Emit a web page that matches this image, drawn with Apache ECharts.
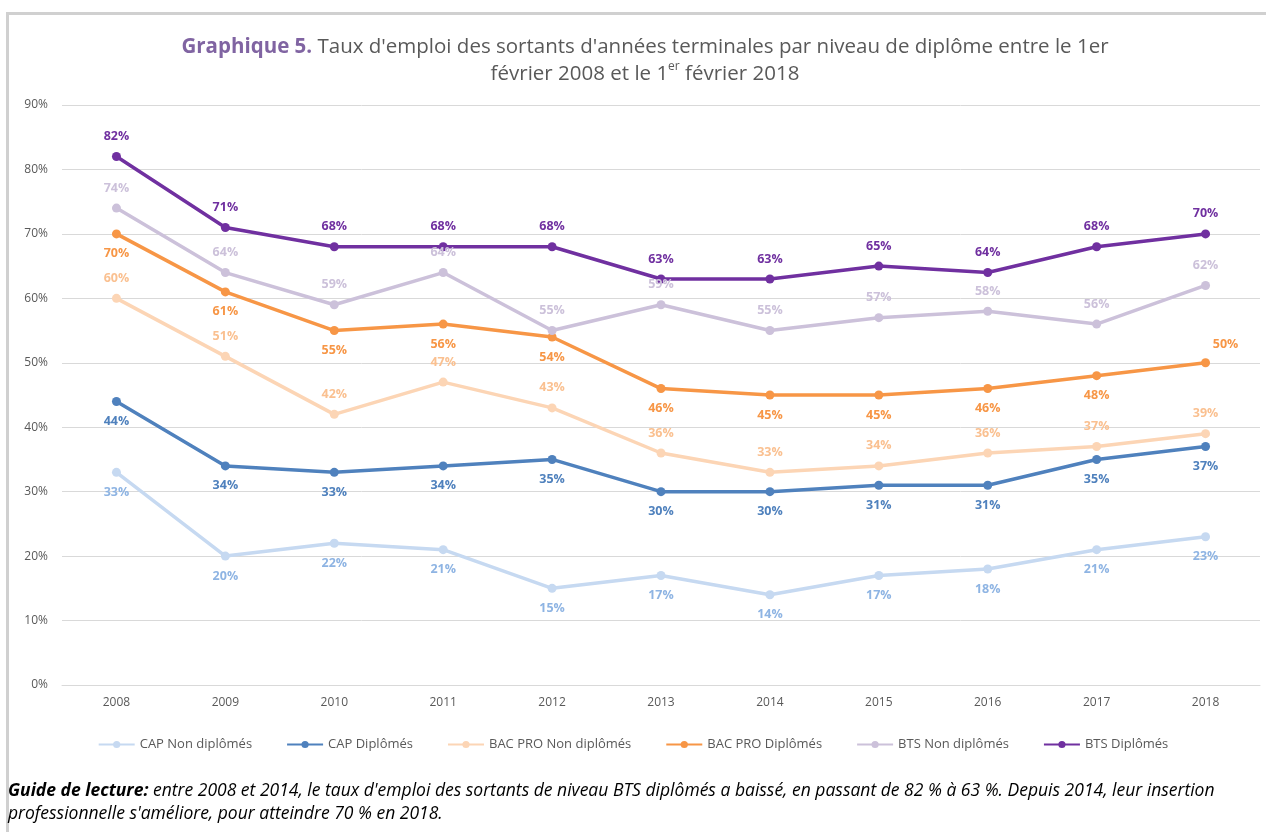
<!DOCTYPE html>
<html>
<head>
<meta charset="utf-8">
<script src="https://cdn.jsdelivr.net/npm/echarts@6/dist/echarts.min.js"></script>
<style>
  html, body { margin: 0; padding: 0; background: #fff; }
  #main { width: 1266px; height: 832px; }
</style>
</head>
<body>
<div id="main"></div>
<script>
var years = ['2008', '2009', '2010', '2011', '2012', '2013', '2014', '2015', '2016', '2017', '2018'];
var capNonDip = [33, 20, 22, 21, 15, 17, 14, 17, 18, 21, 23];
var capDip = [44, 34, 33, 34, 35, 30, 30, 31, 31, 35, 37];
var bacNonDip = [60, 51, 42, 47, 43, 36, 33, 34, 36, 37, 39];
var bacDip = [70, 61, 55, 56, 54, 46, 45, 45, 46, 48, 50];
var btsNonDip = [74, 64, 59, 64, 55, 59, 55, 57, 58, 56, 62];
var btsDip = [82, 71, 68, 68, 68, 63, 63, 65, 64, 68, 70];
// position des étiquettes (au-dessus / en dessous)
var bacDipPos = ['bottom', 'bottom', 'bottom', 'bottom', 'bottom', 'bottom', 'bottom', 'bottom', 'bottom', 'bottom', 'top'];

var font = 'Open Sans';
var myChart = echarts.init(document.getElementById('main'));

function serie(name, data, lineColor, labelColor, pos) {
    return {
        name: name,
        type: 'line',
        data: data.map(function (v, i) {
            var p = Array.isArray(pos) ? pos[i] : pos;
            var item = { value: v, label: { position: p } };
            if (name === 'BAC PRO Diplômés' && i === data.length - 1) {
                item.label.offset = [20, 2];
            }
            return item;
        }),
        symbol: 'circle',
        symbolSize: 9,
        lineStyle: { width: 3.5, color: lineColor },
        itemStyle: { color: lineColor },
        label: {
            show: true,
            distance: 9,
            formatter: '{c}%',
            color: labelColor,
            fontFamily: font,
            fontWeight: 'bold',
            fontSize: 12.5
        },
        emphasis: { disabled: true },
        animation: false
    };
}

var option = {
    animation: false,
    title: {
        text: '{b|Graphique 5.} Taux d\'emploi des sortants d\'années terminales par niveau de diplôme entre le 1er\nfévrier 2008 et le 1{s|er} février 2018',
        left: 640,
        top: 29,
        textAlign: 'center',
        textStyle: {
            fontFamily: font,
            fontSize: 20.5,
            fontWeight: 'normal',
            color: '#595959',
            lineHeight: 27,
            rich: {
                b: { fontFamily: font, fontSize: 20.5, fontWeight: 'bold', color: '#8064a2' },
                s: { fontFamily: font, fontSize: 12, color: '#595959', verticalAlign: 'top', padding: [0, 0, 8, 0] }
            }
        }
    },
    grid: { left: 62, right: 6, top: 105, bottom: 147 },
    xAxis: {
        type: 'category',
        data: years,
        axisLine: { show: true, lineStyle: { color: '#d9d9d9' } },
        axisTick: { show: false },
        axisLabel: { color: '#595959', fontFamily: font, fontSize: 12, margin: 12 }
    },
    yAxis: {
        type: 'value',
        min: 0,
        max: 90,
        interval: 10,
        axisLabel: { formatter: '{value}%', color: '#595959', fontFamily: font, fontSize: 12, margin: 14 },
        splitLine: { lineStyle: { color: '#d9d9d9', width: 1 } },
        axisLine: { show: false },
        axisTick: { show: false }
    },
    legend: {
        top: 733,
        left: 'center',
        itemWidth: 36,
        itemHeight: 9,
        itemGap: 34,
        textStyle: { color: '#595959', fontFamily: font, fontSize: 13 },
        data: ['CAP Non diplômés', 'CAP Diplômés', 'BAC PRO Non diplômés', 'BAC PRO Diplômés', 'BTS Non diplômés', 'BTS Diplômés']
    },
    graphic: [
        {
            type: 'rect',
            left: 5,
            top: 11,
            shape: { width: 1270, height: 830 },
            style: { fill: 'none', stroke: '#d0d0d0', lineWidth: 3 },
            silent: true
        },
        {
            type: 'text',
            left: 8,
            top: 780,
            style: {
                text: '{g|Guide de lecture:} entre 2008 et 2014, le taux d\'emploi des sortants de niveau BTS diplômés a baissé, en passant de 82 % à 63 %. Depuis 2014, leur insertion\nprofessionnelle s\'améliore, pour atteindre 70 % en 2018.',
                fontFamily: font,
                fontStyle: 'italic',
                fontSize: 17.5,
                lineHeight: 23,
                fill: '#000',
                rich: {
                    g: { fontFamily: font, fontStyle: 'italic', fontWeight: 'bold', fontSize: 17.5, fill: '#000' }
                }
            }
        }
    ],
    series: [
        serie('CAP Non diplômés', capNonDip, '#c6d9f1', '#8eb4e3', 'bottom'),
        serie('CAP Diplômés', capDip, '#4f81bd', '#4f81bd', 'bottom'),
        serie('BAC PRO Non diplômés', bacNonDip, '#fcd5b5', '#fac090', 'top'),
        serie('BAC PRO Diplômés', bacDip, '#f79646', '#f79646', bacDipPos),
        serie('BTS Non diplômés', btsNonDip, '#ccc1da', '#ccc1da', 'top'),
        serie('BTS Diplômés', btsDip, '#7030a0', '#7030a0', 'top')
    ]
};

myChart.setOption(option);
</script>
</body>
</html>
